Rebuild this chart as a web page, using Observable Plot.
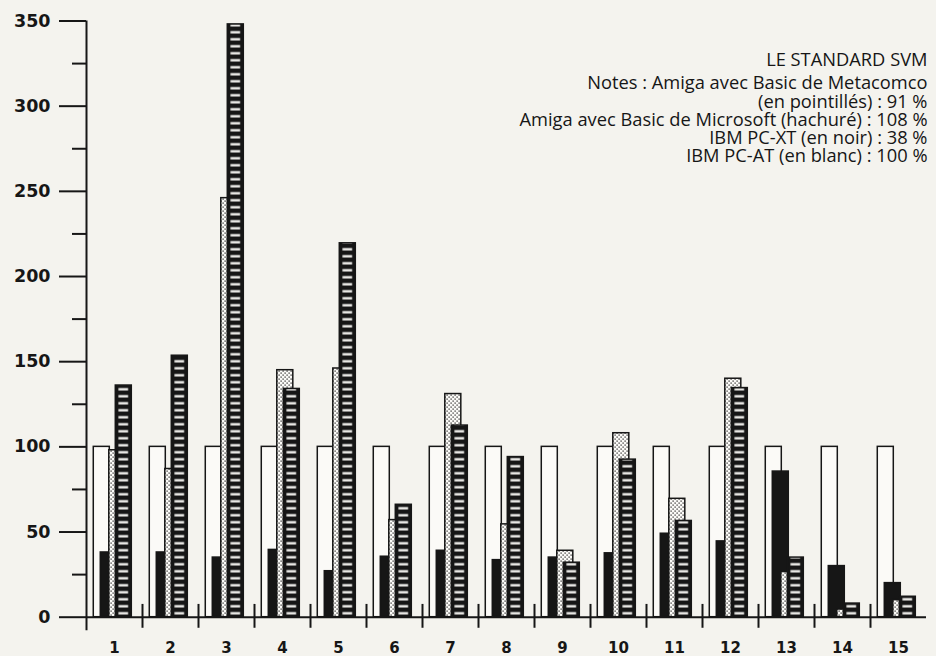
<!DOCTYPE html>
<html><head><meta charset="utf-8">
<script src="https://cdn.jsdelivr.net/npm/d3@7"></script>
<script src="https://cdn.jsdelivr.net/npm/@observablehq/plot@0.6"></script>
<style>
html,body{margin:0;padding:0;background:#f4f3ee;}
#chart{width:936px;height:656px;}
</style></head><body><div id="chart"></div>
<script>
// ---- data ----
const groups = [1, 2, 3, 4, 5, 6, 7, 8, 9, 10, 11, 12, 13, 14, 15];
const ibmAT = [100, 100, 100, 100, 100, 100, 100, 100, 100, 100, 100, 100, 100, 100, 100];
const ibmXT = [38, 38, 35, 39.5, 27, 35.5, 39, 33.5, 35, 37.5, 49, 44.5, 85.5, 30, 20];
const amigaMetacomco = [98, 87, 246, 145, 146, 57, 131, 54.5, 39, 108, 69.5, 140, 26.5, 4.5, 10];
const amigaMicrosoft = [136, 153.5, 348, 134, 219.5, 66, 112.5, 94, 32, 92.5, 56.5, 134.5, 35, 8, 12];
const yMajorTicks = [0, 50, 100, 150, 200, 250, 300, 350];
const yMinorTicks = [25, 75, 125, 175, 225, 275, 325];
const noteTitle = "LE STANDARD SVM";
const notes = [
  "Notes : Amiga avec Basic de Metacomco",
  "(en pointillés) : 91 %",
  "Amiga avec Basic de Microsoft (hachuré) : 108 %",
  "IBM PC-XT (en noir) : 38 %",
  "IBM PC-AT (en blanc) : 100 %"
];

// ---- styling / layout ----
const ink = "#161616", whiteBar = "#fbfaf7";
const seriesValues = [ibmAT, ibmXT, amigaMetacomco, amigaMicrosoft];
const slotStart = 0.13, barW = 0.286;          // fractions of a group slot
const offsets = [0, 0.125, 0.277, 0.393];
const fills = [whiteBar, ink, "url(#dots)", "url(#hatch)"];

const rows = seriesValues.flatMap((vals, si) => groups.map((g, gi) => ({si, group: g, value: vals[gi]})));
const bars = si => Plot.rect(rows.filter(d => d.si === si), {
  x1: d => d.group - 0.5 + slotStart + offsets[si],
  x2: d => d.group - 0.5 + slotStart + offsets[si] + barW,
  y1: 0, y2: "value",
  fill: fills[si], stroke: ink, strokeWidth: 1.5
});
const separators = groups.slice(0, -1).map(g => g + 0.5);
const noteStyle = {text: d => d, frameAnchor: "top-right", textAnchor: "end", lineAnchor: "top",
  dx: 1, fontSize: 18.3, fontFamily: "Open Sans", lineHeight: 0.995, fill: ink};

const plot = Plot.plot({
  width: 936, height: 656,
  marginLeft: 86, marginRight: 10, marginTop: 20.5, marginBottom: 39.3,
  x: {domain: [0.5, 15.5]},
  y: {domain: [0, 350]},
  style: {background: "transparent", color: ink, overflow: "visible"},
  marks: [
    bars(0), bars(1), bars(2), bars(3),
    Plot.ruleY([0], {x1: 0.5, x2: 15.5, stroke: ink, strokeWidth: 2}),
    Plot.ruleX([0.5], {y1: -8, y2: 350, stroke: ink, strokeWidth: 2}),
    Plot.ruleX(separators, {y1: -6.5, y2: 7.5, stroke: ink, strokeWidth: 2}),
    Plot.axisY({ticks: yMajorTicks, tickSize: 27, tickPadding: 9, strokeWidth: 2, label: null,
      fontSize: 17.5, fontWeight: "bold", fontFamily: "DejaVu Sans", tickFormat: d => d}),
    Plot.axisY({ticks: yMinorTicks, tickSize: 14, strokeWidth: 2, label: null, text: null}),
    Plot.axisX({ticks: groups, tickSize: 0, tickPadding: 25, label: null,
      fontSize: 15, fontWeight: "bold", fontFamily: "DejaVu Sans", tickFormat: d => d}),
    Plot.text([noteTitle], {...noteStyle, dy: 32}),
    Plot.text([notes.join("\n")], {...noteStyle, dy: 55.5})
  ]
});

// patterns, aligned with the scales
const xs = plot.scale("x"), ys = plot.scale("y");
const pitch = xs.apply(2) - xs.apply(1);
const hx = xs.apply(0.5 + slotStart + offsets[3]);
const bw = xs.apply(1 + barW) - xs.apply(1);
const y0 = ys.apply(0);
const defs = d3.select(plot).insert("defs", ":first-child");
const hatch = defs.append("pattern").attr("id", "hatch").attr("patternUnits", "userSpaceOnUse")
  .attr("x", hx).attr("y", y0).attr("width", pitch).attr("height", 7);
hatch.append("rect").attr("width", pitch).attr("height", 7).attr("fill", ink);
hatch.append("rect").attr("x", 3.2).attr("y", 2.4).attr("width", bw - 6.4).attr("height", 2.3).attr("fill", whiteBar);
const dots = defs.append("pattern").attr("id", "dots").attr("patternUnits", "userSpaceOnUse")
  .attr("width", 4).attr("height", 4);
dots.append("rect").attr("width", 4).attr("height", 4).attr("fill", whiteBar);
dots.append("rect").attr("x", 0.5).attr("y", 0.5).attr("width", 1.2).attr("height", 1.2).attr("fill", ink);
dots.append("rect").attr("x", 2.5).attr("y", 2.5).attr("width", 1.2).attr("height", 1.2).attr("fill", ink);

document.getElementById("chart").appendChild(plot);
</script></body></html>
